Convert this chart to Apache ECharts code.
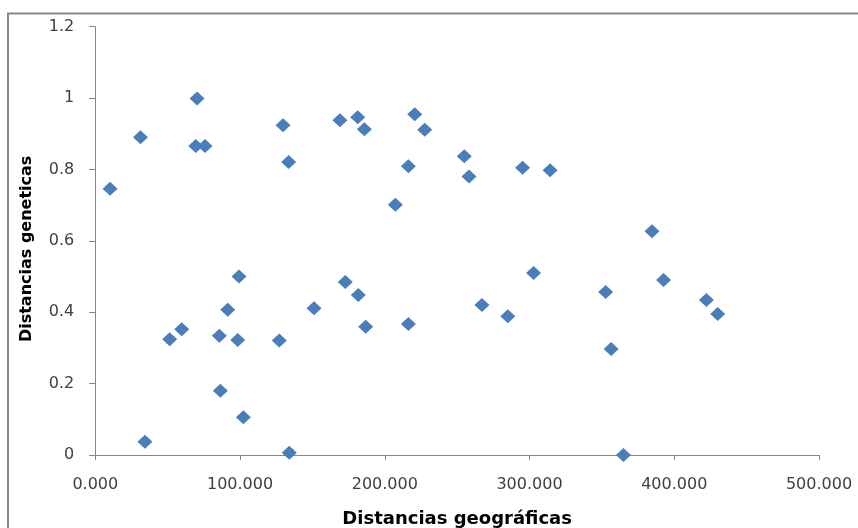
<!DOCTYPE html>
<html><head><meta charset="utf-8">
<script src="https://cdn.jsdelivr.net/npm/echarts@6/dist/echarts.min.js"></script>
<style>html,body{margin:0;padding:0;background:#fff}#c{width:858px;height:528px}</style>
</head><body><div id="c"></div>
<script>
var geoDist = [10.2, 31.2, 34.3, 51.4, 59.7, 70.3, 69.4, 75.8, 85.7, 86.4, 91.5, 98.4, 99.3, 102.3, 127.1, 129.7, 133.6, 134.0, 151.1, 169.0, 172.7, 181.3, 181.7, 185.9, 186.8, 207.3, 216.3, 216.3, 220.7, 227.6, 254.9, 258.2, 267.1, 285.0, 295.2, 302.8, 314.2, 352.6, 356.4, 364.9, 384.6, 392.6, 422.2, 430.0];
var genDist = [0.746, 0.890, 0.037, 0.324, 0.352, 0.999, 0.866, 0.866, 0.334, 0.180, 0.407, 0.322, 0.500, 0.106, 0.321, 0.924, 0.821, 0.006, 0.411, 0.938, 0.485, 0.946, 0.448, 0.913, 0.359, 0.701, 0.809, 0.367, 0.955, 0.911, 0.837, 0.780, 0.420, 0.389, 0.805, 0.510, 0.798, 0.457, 0.297, 0.000, 0.627, 0.490, 0.434, 0.395];
var xTitle = 'Distancias geográficas';
var yTitle = 'Distancias geneticas';

var pts = geoDist.map(function(x, i){ return [x, genDist[i]]; });
var chart = echarts.init(document.getElementById('c'), null, {renderer:'canvas'});
var axisLineStyle = {color:'#868686', width:1};
chart.setOption({
  animation:false,
  backgroundColor:'#fff',
  graphic:[{type:'rect', shape:{x:8, y:13.5, width:860, height:530}, style:{fill:'none', stroke:'#8a8a8a', lineWidth:2}, silent:true}],
  grid:{left:95.3, right:39, top:26.7, bottom:73, containLabel:false, outerBoundsMode:'none'},
  xAxis:{type:'value', min:0, max:500, interval:100,
    axisLine:{show:true, onZero:false, lineStyle:axisLineStyle},
    axisTick:{show:true, length:5, lineStyle:axisLineStyle},
    splitLine:{show:false},
    axisLabel:{color:'#404040', fontFamily:'DejaVu Sans', fontSize:16, margin:22,
      formatter:function(v){ return Math.round(v) + '.000'; }},
    name:xTitle, nameLocation:'middle', nameGap:55,
    nameTextStyle:{color:'#000', fontFamily:'DejaVu Sans', fontWeight:'bold', fontSize:18}
  },
  yAxis:{type:'value', min:0, max:1.2, interval:0.2,
    axisLine:{show:true, onZero:false, lineStyle:axisLineStyle},
    axisTick:{show:true, length:6, lineStyle:axisLineStyle},
    splitLine:{show:false},
    axisLabel:{color:'#404040', fontFamily:'DejaVu Sans', fontSize:16, margin:21,
      formatter:function(v){ return String(Math.round(v*10)/10); }},
    name:yTitle, nameLocation:'middle', nameGap:60, nameRotate:90,
    nameTextStyle:{color:'#000', fontFamily:'DejaVu Sans', fontWeight:'bold', fontSize:16, padding:[0,16,0,0]}
  },
  series:[{type:'scatter', data:pts, symbol:'diamond', symbolSize:[15,14],
    itemStyle:{color:'#4a7ebb', opacity:1}}]
});
</script></body></html>
